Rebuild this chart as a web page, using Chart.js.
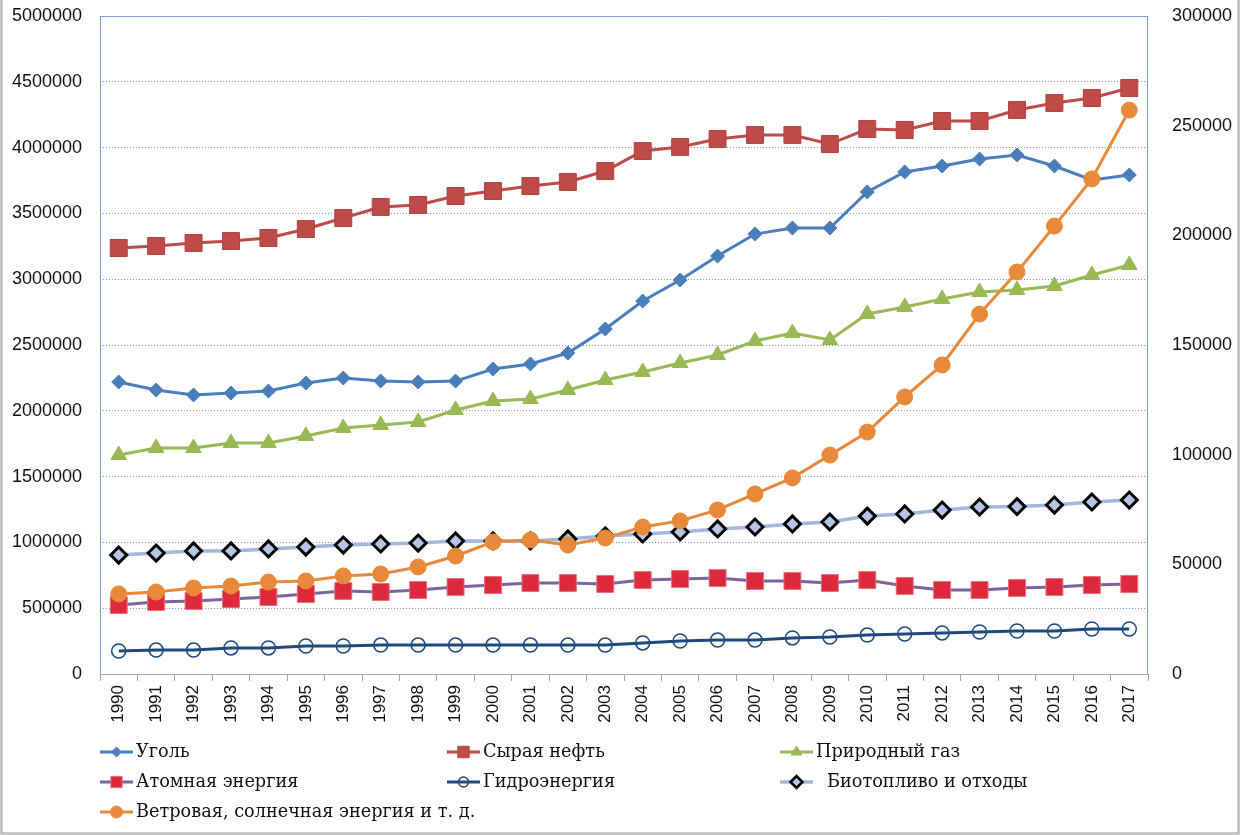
<!DOCTYPE html>
<html>
<head>
<meta charset="utf-8">
<script src="https://cdn.jsdelivr.net/npm/chart.js@4/dist/chart.umd.min.js"></script>
<style>
  html, body { margin: 0; padding: 0; background: #ffffff; }
  #wrap { width: 1240px; height: 835px; position: relative; }
</style>
</head>
<body>
<div id="wrap"><canvas id="c"></canvas></div>
<script>
// ---------- data ----------
const years = ['1990','1991','1992','1993','1994','1995','1996','1997','1998','1999',
  '2000','2001','2002','2003','2004','2005','2006','2007','2008','2009',
  '2010','2011','2012','2013','2014','2015','2016','2017'];

const coal = [2219000,2158000,2120000,2135000,2150000,2211000,2249000,2226000,2219000,2226000,
  2318000,2356000,2439000,2622000,2834000,2994000,3176000,3343000,3389000,3389000,
  3663000,3815000,3860000,3913000,3944000,3860000,3754000,3792000];

const crudeOil = [3237000,3252000,3275000,3290000,3313000,3381000,3465000,3549000,3564000,3632000,
  3670000,3708000,3739000,3822000,3974000,4005000,4065000,4096000,4096000,4027000,
  4141000,4134000,4202000,4202000,4286000,4339000,4377000,4453000];

const naturalGas = [1664000,1717000,1717000,1755000,1755000,1809000,1869000,1892000,1915000,2006000,
  2074000,2090000,2158000,2234000,2295000,2363000,2424000,2530000,2591000,2538000,
  2736000,2789000,2850000,2903000,2918000,2948000,3032000,3108000];

const nuclear = [524000,547000,555000,570000,585000,608000,631000,623000,638000,661000,
  676000,691000,691000,684000,714000,722000,729000,707000,707000,691000,
  714000,669000,638000,638000,654000,661000,676000,684000];

const hydro = [175000,182000,182000,198000,198000,213000,213000,220000,220000,220000,
  220000,220000,220000,220000,236000,251000,258000,258000,274000,281000,
  296000,304000,312000,319000,327000,327000,342000,342000];

const biofuels = [904000,919000,935000,935000,950000,965000,980000,988000,995000,1011000,
  1011000,1011000,1026000,1049000,1064000,1079000,1102000,1117000,1140000,1155000,
  1200000,1216000,1246000,1269000,1272000,1284000,1307000,1322000];

// secondary (right) axis
const windSolar = [36500,37400,39200,40100,41900,42400,44700,45600,48800,53800,
  60200,61100,58800,62000,67000,69800,74800,82100,89400,99800,
  110300,126300,140900,164100,183300,204200,225700,257100];

const seriesNames = ['Уголь','Сырая нефть','Природный газ','Атомная энергия','Гидроэнергия','Биотопливо и отходы','Ветровая, солнечная энергия и т. д.'];

const leftMax = 5000000, leftStep = 500000;
const rightMax = 300000, rightStep = 50000;

// ---------- chart ----------
const datasets = [
  { label: seriesNames[0], data: coal, yAxisID: 'y', order: 7,
    borderColor: '#4a7ebb', backgroundColor: '#4a7ebb', borderWidth: 3,
    pointStyle: 'rectRot', pointRadius: 7, pointBorderColor: '#4a7ebb', pointBackgroundColor: '#4a7ebb', pointBorderWidth: 1,
    legendMarker: {style: 'rectRot', r: 5} },
  { label: seriesNames[1], data: crudeOil, yAxisID: 'y', order: 6,
    borderColor: '#be4b48', backgroundColor: '#be4b48', borderWidth: 3,
    pointStyle: 'rect', pointRadius: 12, pointBorderColor: '#b04340', pointBackgroundColor: '#be4b48', pointBorderWidth: 1,
    legendMarker: {style: 'rect', r: 8} },
  { label: seriesNames[2], data: naturalGas, yAxisID: 'y', order: 5,
    borderColor: '#98b954', backgroundColor: '#98b954', borderWidth: 3,
    pointStyle: 'triangle', pointRadius: 9, pointBorderColor: '#98b954', pointBackgroundColor: '#98b954', pointBorderWidth: 1,
    legendMarker: {style: 'triangle', r: 6} },
  { label: seriesNames[3], data: nuclear, yAxisID: 'y', order: 4,
    borderColor: '#7e649e', backgroundColor: '#e0283c', borderWidth: 3,
    pointStyle: 'rect', pointRadius: 12, pointBorderColor: '#e8707e', pointBackgroundColor: '#dc2a3c', pointBorderWidth: 1,
    legendMarker: {style: 'rect', r: 8} },
  { label: seriesNames[4], data: hydro, yAxisID: 'y', order: 3,
    borderColor: '#1f497d', backgroundColor: 'rgba(0,0,0,0)', borderWidth: 3,
    pointStyle: 'circle', pointRadius: 7, pointBorderColor: '#1f497d', pointBackgroundColor: 'rgba(255,255,255,0)', pointBorderWidth: 1.5,
    legendMarker: {style: 'circle', r: 5} },
  { label: seriesNames[5], data: biofuels, yAxisID: 'y', order: 2,
    borderColor: '#a2b7dc', backgroundColor: '#b4c6e4', borderWidth: 3.5,
    pointStyle: 'rectRot', pointRadius: 8, pointBorderColor: '#000000', pointBackgroundColor: '#b4c6e4', pointBorderWidth: 3,
    legendMarker: {style: 'rectRot', r: 6} },
  { label: seriesNames[6], data: windSolar, yAxisID: 'y1', order: 1,
    borderColor: '#e8893a', backgroundColor: '#e8893a', borderWidth: 3,
    pointStyle: 'circle', pointRadius: 8, pointBorderColor: '#e8893a', pointBackgroundColor: '#e8893a', pointBorderWidth: 1,
    legendMarker: {style: 'circle', r: 6} }
];
datasets.forEach(d => { d.tension = 0; d.fill = false; d.pointHoverRadius = d.pointRadius; });

// legend layout (positions only)
const legendCols = [100, 447, 780];
const legendRows = [752, 782, 812];

const plainNumber = v => String(v);

const framePlugin = {
  id: 'frame',
  afterDraw(chart) {
    const {ctx, chartArea: a} = chart;
    ctx.save();
    // plot area frame (left, top, right)
    ctx.strokeStyle = '#7fa3d3';
    ctx.lineWidth = 1;
    ctx.setLineDash([]);
    ctx.beginPath();
    ctx.moveTo(a.left + 0.5, a.bottom);
    ctx.lineTo(a.left + 0.5, a.top + 0.5);
    ctx.lineTo(a.right - 0.5, a.top + 0.5);
    ctx.lineTo(a.right - 0.5, a.bottom);
    ctx.stroke();
    // outer border
    ctx.strokeStyle = '#bdbdbd';
    ctx.lineWidth = 2.5;
    ctx.beginPath();
    ctx.moveTo(1.5, 0);
    ctx.lineTo(1.5, chart.height - 1.5);
    ctx.lineTo(chart.width - 1.5, chart.height - 1.5);
    ctx.lineTo(chart.width - 1.5, 0);
    ctx.stroke();

    // legend
    chart.data.datasets.forEach((d, i) => {
      const x0 = legendCols[i % 3];
      const y0 = legendRows[Math.floor(i / 3)];
      const lw = 33;
      ctx.strokeStyle = d.borderColor;
      ctx.lineWidth = d.borderWidth;
      ctx.beginPath();
      ctx.moveTo(x0, y0);
      ctx.lineTo(x0 + lw, y0);
      ctx.stroke();
      const bw = d.pointBorderWidth > 2 ? 2.5 : d.pointBorderWidth;
      ctx.fillStyle = d.pointBackgroundColor;
      ctx.strokeStyle = d.pointBorderColor;
      ctx.lineWidth = bw;
      Chart.helpers.drawPoint(ctx, {
        pointStyle: d.legendMarker.style,
        radius: d.legendMarker.r,
        borderWidth: bw,
      }, x0 + lw / 2, y0);
      ctx.font = '17.7px "DejaVu Serif"';
      ctx.textBaseline = 'middle';
      ctx.textAlign = 'left';
      ctx.fillStyle = '#111111';
      const tx = x0 + lw + 3 + (i === 5 ? 11 : 0);
      ctx.fillText(d.label, tx, y0);
    });
    ctx.restore();
  }
};

const chart = new Chart(document.getElementById('c'), {
  type: 'line',
  data: { labels: years, datasets },
  options: {
    responsive: true,
    maintainAspectRatio: false,
    animation: false,
    layout: { padding: { top: 16, left: 0, right: 0, bottom: 91 } },
    plugins: { legend: { display: false }, tooltip: { enabled: false } },
    scales: {
      x: {
        type: 'category',
        offset: true,
        grid: { display: true, drawOnChartArea: false, drawTicks: true, tickLength: 7, color: '#a6a6a6', offset: true },
        border: { display: true, color: '#a6a6a6', width: 1 },
        ticks: { minRotation: 90, maxRotation: 90, autoSkip: false, padding: 4,
          font: { family: '"Liberation Sans", Arial, sans-serif', size: 17 }, color: '#111111' },
        afterFit(s) { s.height = 70; }
      },
      y: {
        position: 'left',
        min: 0, max: leftMax,
        ticks: { stepSize: leftStep, padding: 18, callback: plainNumber,
          font: { family: '"Liberation Sans", Arial, sans-serif', size: 18 }, color: '#111111' },
        grid: { display: true, drawTicks: false, color: '#6f97cc', lineWidth: 1 },
        border: { display: false, dash: [1, 2] },
        afterFit(s) { s.width = 100; s.paddingTop = 10; s.paddingBottom = 10; }
      },
      y1: {
        position: 'right',
        min: 0, max: rightMax,
        ticks: { stepSize: rightStep, padding: 24, callback: plainNumber,
          font: { family: '"Liberation Sans", Arial, sans-serif', size: 18 }, color: '#111111' },
        grid: { display: false, drawOnChartArea: false, drawTicks: false },
        border: { display: false },
        afterFit(s) { s.width = 92; s.paddingTop = 10; s.paddingBottom = 10; }
      }
    }
  },
  plugins: [framePlugin]
});
</script>
</body>
</html>
